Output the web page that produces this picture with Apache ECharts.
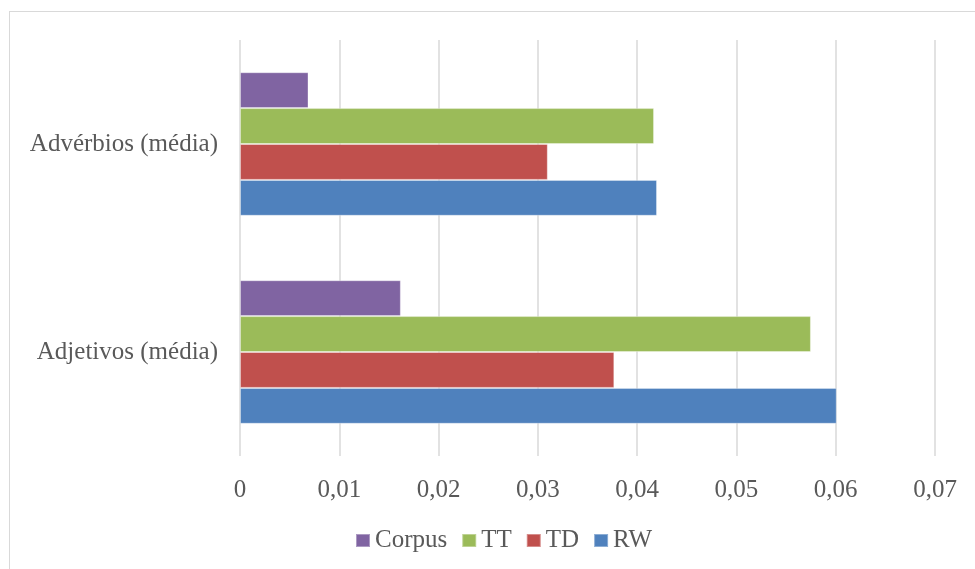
<!DOCTYPE html>
<html>
<head>
<meta charset="utf-8">
<script src="https://cdn.jsdelivr.net/npm/echarts@6/dist/echarts.min.js"></script>
<style>
  html, body { margin: 0; padding: 0; background: #fff; }
  #frame { position: absolute; left: 9px; top: 11px; width: 980px; height: 570px; border: 1px solid #d9d9d9; box-sizing: border-box; }
  #chart { position: absolute; left: 0; top: 0; width: 975px; height: 569px; }
</style>
</head>
<body>
<div id="frame"></div>
<div id="chart"></div>
<script>
// Categories from bottom to top on the vertical axis
const categories = ['Adjetivos (média)', 'Advérbios (média)'];

// Series values, one per category (same order as categories)
const rwValues = [0.0601, 0.0420];
const tdValues = [0.0377, 0.0310];
const ttValues = [0.0575, 0.0417];
const corpusValues = [0.0162, 0.0069];

// Series names, in the order the bars are stacked top-to-bottom in each group
const seriesNames = ['Corpus', 'TT', 'TD', 'RW'];
const legendOrder = ['Corpus', 'TT', 'TD', 'RW'];

const palette = {
  RW: '#4F81BD',
  TD: '#C0504D',
  TT: '#9BBB59',
  Corpus: '#8064A2'
};

const valuesByName = { RW: rwValues, TD: tdValues, TT: ttValues, Corpus: corpusValues };

const font = '"Liberation Serif", "DejaVu Serif", serif';
const textColor = '#595959';

const chart = echarts.init(document.getElementById('chart'), null, { renderer: 'canvas' });

chart.setOption({
  animation: false,
  backgroundColor: 'transparent',
  grid: { left: 240, right: 40, top: 40, bottom: 113, containLabel: false },
  legend: {
    data: legendOrder,
    top: 528,
    left: 355,
    padding: 0,
    itemWidth: 14,
    itemHeight: 13,
    itemGap: 14,
    icon: 'rect',
    textStyle: { fontFamily: font, fontSize: 25, color: textColor }
  },
  xAxis: {
    type: 'value',
    min: 0,
    max: 0.07,
    interval: 0.01,
    axisLine: { show: false },
    axisTick: { show: false },
    splitLine: { lineStyle: { color: '#d9d9d9', width: 1.5 } },
    axisLabel: {
      margin: 22,
      fontFamily: font,
      fontSize: 25,
      color: textColor,
      formatter: v => (v === 0 ? '0' : v.toFixed(2).replace('.', ','))
    }
  },
  yAxis: {
    type: 'category',
    data: categories,
    axisLine: { show: false },
    axisTick: { show: false },
    splitLine: { show: false },
    axisLabel: {
      margin: 22,
      fontFamily: font,
      fontSize: 25,
      color: textColor
    }
  },
  series: seriesNames.map(name => ({
    name: name,
    type: 'bar',
    data: valuesByName[name],
    barGap: '0%',
    barCategoryGap: '31%',
    itemStyle: {
      color: palette[name],
      borderColor: 'rgba(255,255,255,0.35)',
      borderWidth: 1
    }
  }))
});
</script>
</body>
</html>
